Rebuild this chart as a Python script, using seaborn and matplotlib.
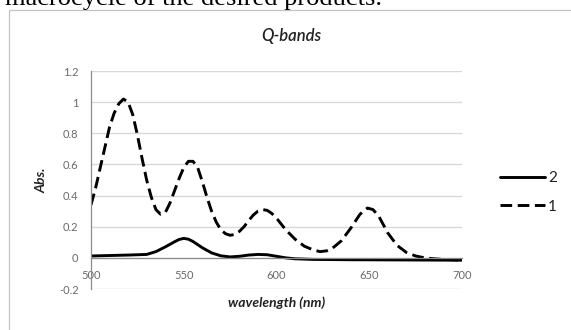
import matplotlib
matplotlib.use("Agg")
import matplotlib.pyplot as plt
from matplotlib.patches import Rectangle
import seaborn as sns
import pandas as pd

# ---- data ----
wl_1 = [500, 502.5, 505, 507.5, 510, 512.5, 515, 517.5, 520, 522.5, 525, 527.5,
        530, 532.5, 535, 537.5, 540, 542.5, 545, 547.5, 550, 552.5, 555, 557.5,
        560, 562.5, 565, 567.5, 570, 572.5, 575, 577.5, 580, 582.5, 585, 587.5,
        590, 592.5, 595, 597.5, 600, 605, 610, 615, 620, 623.5, 627, 630, 635,
        640, 645, 649, 652, 655, 660, 665, 670, 675, 680, 685, 690, 695, 700]
abs_1 = [0.34, 0.45, 0.58, 0.71, 0.84, 0.93, 0.99, 1.02, 1.00, 0.92, 0.79, 0.64,
         0.50, 0.39, 0.31, 0.28, 0.29, 0.35, 0.43, 0.51, 0.58, 0.62, 0.62, 0.58,
         0.49, 0.39, 0.30, 0.23, 0.18, 0.155, 0.145, 0.15, 0.17, 0.20, 0.24,
         0.275, 0.30, 0.31, 0.305, 0.285, 0.255, 0.18, 0.12, 0.075, 0.05, 0.04,
         0.045, 0.06, 0.11, 0.19, 0.28, 0.32, 0.31, 0.27, 0.16, 0.08, 0.035,
         0.012, 0.0, -0.006, -0.01, -0.012, -0.015]
wl_2 = [500, 510, 520, 530, 535, 540, 545, 547.5, 550, 552.5, 555, 560, 565, 570,
        575, 580, 585, 590, 595, 600, 605, 610, 620, 640, 660, 680, 700]
abs_2 = [0.012, 0.015, 0.018, 0.022, 0.04, 0.07, 0.103, 0.118, 0.125, 0.12, 0.105,
         0.065, 0.032, 0.013, 0.006, 0.01, 0.018, 0.022, 0.02, 0.01, 0.0, -0.006,
         -0.01, -0.012, -0.013, -0.014, -0.015]
series_names = ["2", "1"]
y_ticks = [-0.2, 0, 0.2, 0.4, 0.6, 0.8, 1, 1.2]
y_tick_labels = ["-0.2", "0", "0.2", "0.4", "0.6", "0.8", "1", "1.2"]
x_ticks = [500, 550, 600, 650, 700]
x_tick_labels = ["500", "550", "600", "650", "700"]
title = "Q-bands"
x_label = "wavelength (nm)"
y_label = "Abs."
top_text = "macrocycle of the desired products."

df = pd.concat([
    pd.DataFrame({"wavelength": wl_2, "abs": abs_2, "sample": "2"}),
    pd.DataFrame({"wavelength": wl_1, "abs": abs_1, "sample": "1"}),
], ignore_index=True)

sns.set_theme(style="white")
plt.rcParams["font.family"] = ["Lato", "DejaVu Sans"]

W, H = 571, 330
fig = plt.figure(figsize=(W / 100, H / 100), dpi=100)
fig.patch.set_facecolor("white")

def fx(px):
    return px / W

def fy(py):
    return 1 - py / H

ax = fig.add_axes([fx(91), fy(289), fx(462) - fx(91), fy(71) - fy(289)])
ax.set_facecolor("white")

sns.lineplot(data=df, x="wavelength", y="abs", style="sample",
             style_order=series_names, dashes={"2": "", "1": (4, 1.9)},
             color="black", linewidth=2.1, estimator=None, sort=False,
             ax=ax, legend=True)

ax.set_xlim(500, 700)
ax.set_ylim(-0.2, 1.2)
ax.set_yticks(y_ticks)
ax.set_yticklabels(y_tick_labels)
ax.set_xticks(x_ticks)
ax.set_xticklabels(x_tick_labels)
ax.set_xlabel("")
ax.set_ylabel("")

ax.yaxis.grid(True, color="#d9d9d9", linewidth=1.0)
ax.xaxis.grid(False)
ax.set_axisbelow(True)
for s in ["top", "right"]:
    ax.spines[s].set_visible(False)
ax.spines["left"].set_color("#8c8c8c")
ax.spines["left"].set_linewidth(0.9)
ax.spines["bottom"].set_position(("data", 0))
ax.spines["bottom"].set_color("#8c8c8c")
ax.spines["bottom"].set_linewidth(0.9)
ax.tick_params(axis="both", length=0, labelsize=8, colors="#6a6a6a")
ax.tick_params(axis="y", pad=9)
ax.tick_params(axis="x", pad=9)

# legend
handles, labels = ax.get_legend_handles_labels()
leg = ax.legend(handles, labels, loc="center left",
                bbox_to_anchor=(fx(500), fy(192.5)),
                bbox_transform=fig.transFigure, frameon=False,
                fontsize=11, handlelength=2.95, handletextpad=0.2,
                labelspacing=0.95, borderpad=0, borderaxespad=0)
for t in leg.get_texts():
    t.set_color("#222222")

# texts
fig.text(fx(291), fy(36), title, ha="center", va="center", fontsize=12,
         fontstyle="italic", fontweight="semibold", color="#222222")
fig.text(fx(277), fy(303), x_label, ha="center", va="center", fontsize=10,
         fontstyle="italic", fontweight="bold", color="#222222")
fig.text(fx(42), fy(180), y_label, ha="center", va="center", fontsize=10,
         fontstyle="italic", fontweight="bold", color="#222222", rotation=90)

# chart-area frame
fig.patches.append(Rectangle((fx(9), fy(340)), 1.2, fy(10) - fy(340),
                             transform=fig.transFigure, fill=False,
                             edgecolor="#c4c4c4", linewidth=0.9))

# cropped text line above the chart
fig.text(fx(5), fy(5), top_text, ha="left", va="baseline", fontsize=19,
         family=["Liberation Serif", "DejaVu Serif"], color="black")

fig.savefig("out.png", dpi=100)
